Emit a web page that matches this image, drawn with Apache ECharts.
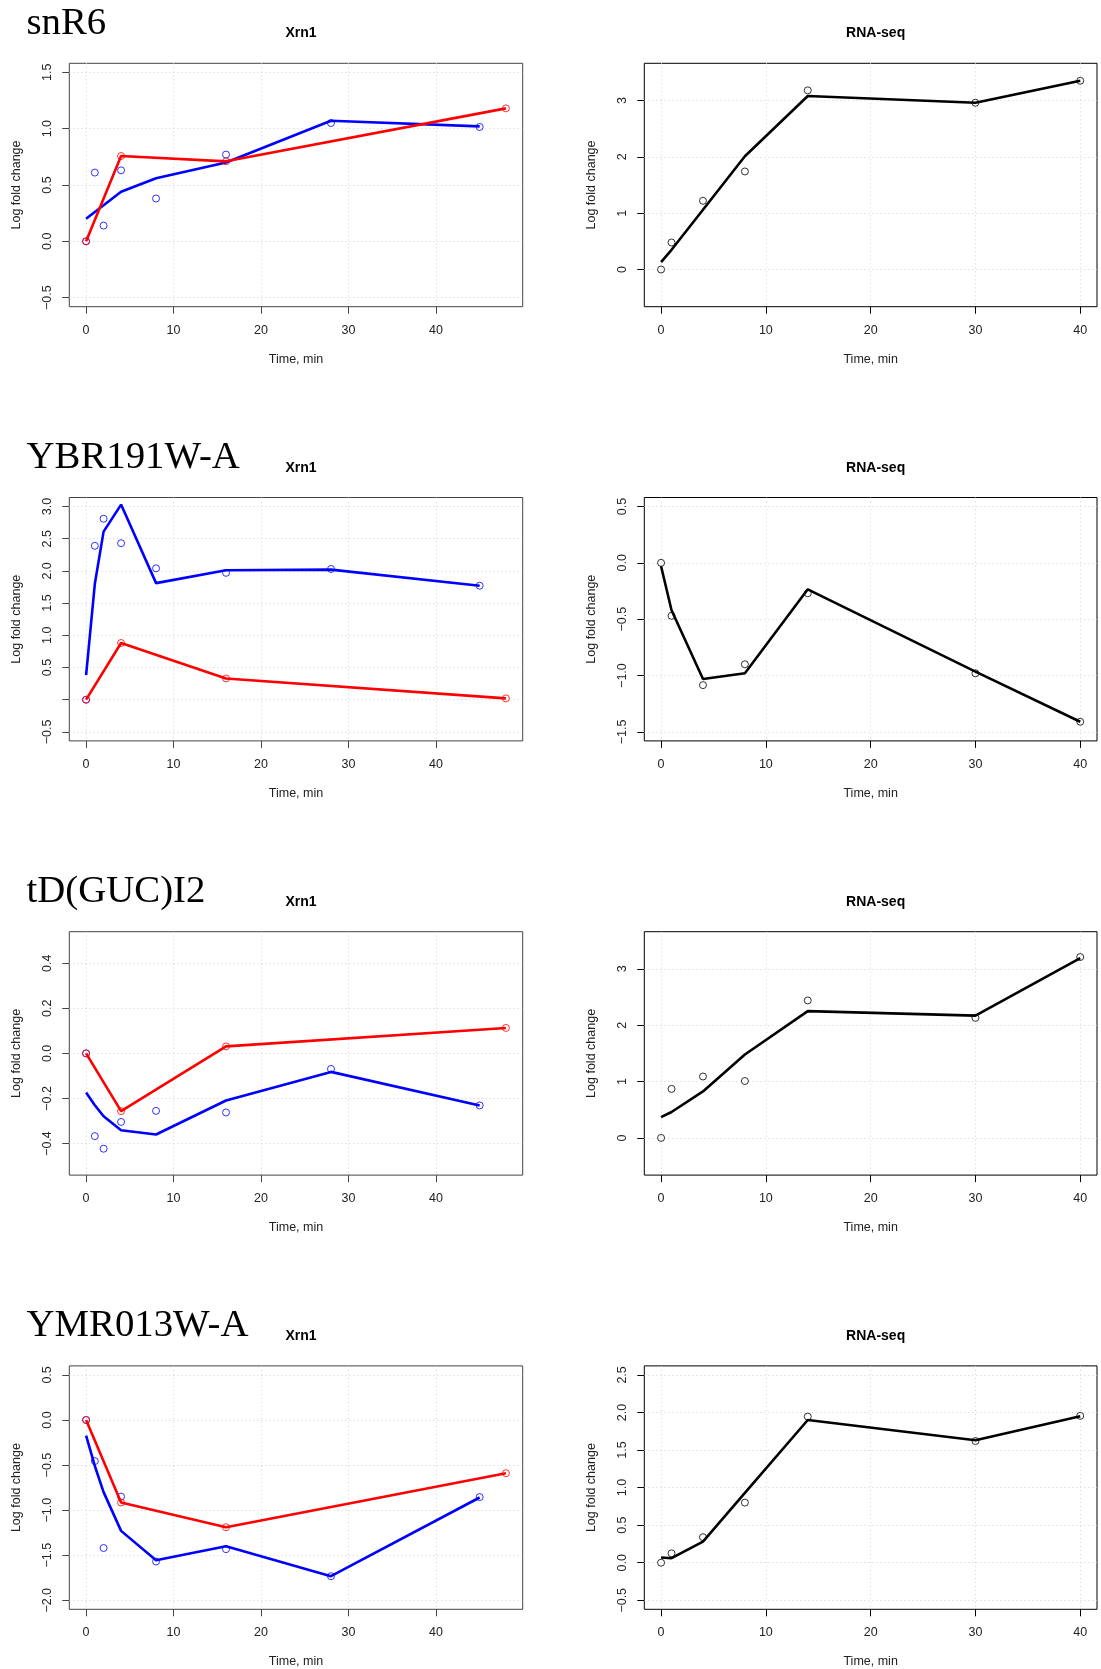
<!DOCTYPE html>
<html><head><meta charset="utf-8">
<script src="https://cdn.jsdelivr.net/npm/echarts@6/dist/echarts.min.js"></script>
<style>html,body{margin:0;padding:0;background:#fff}#c{width:1101px;height:1669px}</style>
</head><body><div id="c"></div>
<script>
// ---------- data ----------
const genes = ['snR6', 'YBR191W-A', 'tD(GUC)I2', 'YMR013W-A'];
const xrnTimes = [0, 1, 2, 4, 8, 16, 28, 45];
const ctrlTimes = [0, 4, 16, 48];
const rnaTimes = [0, 1, 4, 8, 14, 30, 40];
const xTicksXrn = [0, 10, 20, 30, 40];
const xTicksRna = [0, 10, 20, 30, 40];

// snR6
const snR6XrnFit = [0.20, 0.26, 0.32, 0.44, 0.56, 0.70, 1.07, 1.02];
const snR6XrnObs = [0, 0.61, 0.14, 0.63, 0.38, 0.77, 1.05, 1.015];
const snR6Ctrl = [0, 0.757, 0.71, 1.18];
const snR6RnaFit = [0.13, 0.35, 1.06, 2.01, 3.08, 2.96, 3.35];
const snR6RnaObs = [0, 0.48, 1.22, 1.74, 3.18, 2.96, 3.35];
// YBR191W-A
const ybrXrnFit = [0.38, 1.80, 2.61, 3.03, 1.81, 2.01, 2.02, 1.77];
const ybrXrnObs = [0, 2.39, 2.81, 2.43, 2.04, 1.97, 2.03, 1.77];
const ybrCtrl = [0, 0.88, 0.33, 0.02];
const ybrRnaFit = [-0.03, -0.42, -1.03, -0.98, -0.235, -0.965, -1.41];
const ybrRnaObs = [0, -0.47, -1.085, -0.90, -0.27, -0.98, -1.41];
// tD(GUC)I2
const tdXrnFit = [-0.174, -0.23, -0.279, -0.341, -0.36, -0.209, -0.082, -0.231];
const tdXrnObs = [0, -0.367, -0.423, -0.304, -0.255, -0.262, -0.069, -0.231];
const tdCtrl = [0, -0.256, 0.031, 0.113];
const tdRnaFit = [0.37, 0.46, 0.825, 1.48, 2.25, 2.17, 3.19];
const tdRnaObs = [0, 0.87, 1.09, 1.01, 2.44, 2.13, 3.21];
// YMR013W-A
const ymrXrnFit = [-0.174, -0.51, -0.80, -1.23, -1.556, -1.40, -1.733, -0.86];
const ymrXrnObs = [0, -0.456, -1.42, -0.85, -1.57, -1.433, -1.733, -0.855];
const ymrCtrl = [0, -0.915, -1.19, -0.59];
const ymrRnaFit = [0.07, 0.06, 0.28, 0.93, 1.90, 1.63, 1.95];
const ymrRnaObs = [0, 0.125, 0.34, 0.80, 1.945, 1.62, 1.955];

// y tick values and labels
const yTicksXrn = [[-0.5, 0, 0.5, 1, 1.5], [-0.5, 0, 0.5, 1, 1.5, 2, 2.5, 3], [-0.4, -0.2, 0, 0.2, 0.4], [-2, -1.5, -1, -0.5, 0, 0.5]];
const yLabelsXrn = [[-0.5, 0, 0.5, 1, 1.5], [-0.5, 0.5, 1, 1.5, 2, 2.5, 3], [-0.4, -0.2, 0, 0.2, 0.4], [-2, -1.5, -1, -0.5, 0, 0.5]];
const yTicksRna = [[0, 1, 2, 3], [-1.5, -1, -0.5, 0, 0.5], [0, 1, 2, 3], [-0.5, 0, 0.5, 1, 1.5, 2, 2.5]];
const yRangeXrn = [[-0.58, 1.58], [-0.64, 3.14], [-0.54, 0.54], [-2.1, 0.6]];
const yRangeRna = [[-0.66, 3.66], [-1.58, 0.58], [-0.66, 3.66], [-0.62, 2.62]];
const yDecXrn = [1, 1, 1, 1];
const yDecRna = [0, 1, 0, 1];

const xrnFit = [snR6XrnFit, ybrXrnFit, tdXrnFit, ymrXrnFit];
const xrnObs = [snR6XrnObs, ybrXrnObs, tdXrnObs, ymrXrnObs];
const ctrl = [snR6Ctrl, ybrCtrl, tdCtrl, ymrCtrl];
const rnaFit = [snR6RnaFit, ybrRnaFit, tdRnaFit, ymrRnaFit];
const rnaObs = [snR6RnaObs, ybrRnaObs, tdRnaObs, ymrRnaObs];

// ---------- layout ----------
const FONT = '"Liberation Sans", Arial, Helvetica, sans-serif';
const ROW = 434.2;
const BOX_TOP = 63.3, BOX_H = 243.4;
const COLS = [{ left: 69.3, width: 453.4, xr: [-1.92, 49.92] }, { left: 644.3, width: 452.7, xr: [-1.6, 41.6] }];

function fmt(dec) {
  return function (v) { return (v < 0 ? '\u2212' : '') + Math.abs(v).toFixed(dec); };
}
function pairs(xs, ys) { return xs.map((x, i) => [x, ys[i]]); }

const grids = [], xAxes = [], yAxes = [], series = [], titles = [], graphics = [];
let gi = 0;
for (let r = 0; r < 4; r++) {
  const top = BOX_TOP + r * ROW;
  graphics.push({
    type: 'text', left: 26.5, top: 4.0 + r * ROW,
    style: { text: genes[r], font: '38.8px "Liberation Serif", "Times New Roman", serif', fill: '#000' }
  });
  for (let c = 0; c < 2; c++) {
    const col = COLS[c];
    const isX = c === 0;
    const boxCol = isX ? '#444' : '#000';
    grids.push({ left: col.left, top: top, width: col.width, height: BOX_H, show: true, borderColor: boxCol, borderWidth: 1, backgroundColor: 'transparent', containLabel: false, outerBoundsMode: 'none' });
    titles.push({
      text: isX ? 'Xrn1' : 'RNA-seq', left: col.left + col.width / 2, top: top - 41.8, textAlign: 'center',
      textStyle: { fontFamily: FONT, fontWeight: 'bold', fontSize: 14, color: '#000' }
    });
    const xt = isX ? xTicksXrn : xTicksRna;
    xAxes.push({
      type: 'value', gridIndex: gi, min: col.xr[0], max: col.xr[1], position: 'bottom',
      axisLine: { show: false, onZero: false },
      axisTick: { show: true, inside: false, length: 7, customValues: xt, lineStyle: { color: boxCol, width: 1 } },
      axisLabel: { customValues: xt, margin: 17, fontSize: 12.5, fontFamily: FONT, color: '#222', formatter: v => String(v) },
      splitLine: { show: true, lineStyle: { color: '#d3d3d3', type: [1, 3], width: 1 } },
      name: 'Time, min', nameLocation: 'middle', nameGap: 46,
      nameTextStyle: { fontSize: 12.5, fontFamily: FONT, color: '#222' }
    });
    const yr = isX ? yRangeXrn[r] : yRangeRna[r];
    const yt = isX ? yTicksXrn[r] : yTicksRna[r];
    const yl = isX ? yLabelsXrn[r] : yTicksRna[r];
    const dec = isX ? yDecXrn[r] : yDecRna[r];
    yAxes.push({
      type: 'value', gridIndex: gi, min: yr[0], max: yr[1], position: 'left',
      axisLine: { show: false, onZero: false },
      axisTick: { show: true, inside: false, length: 7, customValues: yt, lineStyle: { color: boxCol, width: 1 } },
      axisLabel: { customValues: yl, rotate: 90, margin: 15, fontSize: 12.5, fontFamily: FONT, color: '#222', formatter: fmt(dec) },
      splitLine: { show: true, lineStyle: { color: '#d3d3d3', type: [1, 3], width: 1 } },
      name: 'Log fold change', nameLocation: 'middle', nameRotate: 90, nameGap: 46,
      nameTextStyle: { fontSize: 12.5, fontFamily: FONT, color: '#222' }
    });
    if (isX) {
      series.push({ type: 'line', xAxisIndex: gi, yAxisIndex: gi, data: pairs(xrnTimes, xrnFit[r]), showSymbol: false, lineStyle: { color: '#0000ff', width: 2.6 }, itemStyle: { color: '#0000ff' }, z: 3 });
      series.push({ type: 'scatter', xAxisIndex: gi, yAxisIndex: gi, data: pairs(xrnTimes, xrnObs[r]), symbol: 'circle', symbolSize: 7, itemStyle: { color: 'rgba(0,0,0,0)', borderColor: '#0000ff', borderWidth: 1 }, z: 4 });
      series.push({ type: 'line', xAxisIndex: gi, yAxisIndex: gi, data: pairs(ctrlTimes, ctrl[r]), showSymbol: false, lineStyle: { color: '#ff0000', width: 2.6 }, itemStyle: { color: '#ff0000' }, z: 5 });
      series.push({ type: 'scatter', xAxisIndex: gi, yAxisIndex: gi, data: pairs(ctrlTimes, ctrl[r]), symbol: 'circle', symbolSize: 7, itemStyle: { color: 'rgba(0,0,0,0)', borderColor: '#ff0000', borderWidth: 1 }, z: 6 });
    } else {
      series.push({ type: 'line', xAxisIndex: gi, yAxisIndex: gi, data: pairs(rnaTimes, rnaFit[r]), showSymbol: false, lineStyle: { color: '#000', width: 2.6 }, itemStyle: { color: '#000' }, z: 3 });
      series.push({ type: 'scatter', xAxisIndex: gi, yAxisIndex: gi, data: pairs(rnaTimes, rnaObs[r]), symbol: 'circle', symbolSize: 7, itemStyle: { color: 'rgba(0,0,0,0)', borderColor: '#000', borderWidth: 1 }, z: 4 });
    }
    gi++;
  }
}

const chart = echarts.init(document.getElementById('c'), null, { renderer: 'canvas' });
chart.setOption({
  animation: false,
  backgroundColor: '#fff',
  title: titles,
  grid: grids,
  xAxis: xAxes,
  yAxis: yAxes,
  series: series,
  graphic: graphics
});
</script></body></html>
